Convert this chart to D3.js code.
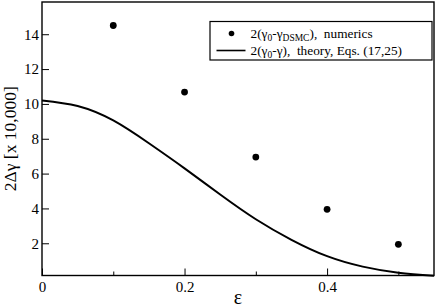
<!DOCTYPE html>
<html><head><meta charset="utf-8">
<script src="https://cdn.jsdelivr.net/npm/d3@7"></script>
<style>body{margin:0;background:#fff}</style>
</head><body><svg id="c" width="436" height="307"></svg>
<script>
const epsNum = [0.1, 0.2, 0.3, 0.4, 0.5];
const dgNum = [14.5, 10.68, 6.95, 3.95, 1.94];
const epsTh = [0, 0.05, 0.1, 0.15, 0.2, 0.25, 0.3, 0.35, 0.4, 0.45, 0.5, 0.55];
const dgTh = [10.2, 9.88, 9.05, 7.74, 6.3, 4.8, 3.38, 2.2, 1.26, 0.66, 0.31, 0.13];
const xMajor = [0, 0.2, 0.4];
const xMinor = [0.1, 0.3, 0.5];
const yMajor = [2, 4, 6, 8, 10, 12, 14];
const xTickLabels = ["0", "0.2", "0.4"];

const FONT = "Liberation Serif, Times New Roman, DejaVu Serif, serif";
const svg = d3.select("#c");
const L = 42, R = 434, T = 2, B = 275.5;
const x = d3.scaleLinear().domain([0, 0.55]).range([L, R]);
const y = d3.scaleLinear().domain([0.15, 15.85]).range([B, T]);

const gx = svg.append("g").attr("transform", `translate(0,${B})`)
  .call(d3.axisBottom(x).tickValues(xMajor).tickSize(-7).tickPadding(5.5).tickFormat((d,i)=>xTickLabels[i]));
gx.attr("font-family", FONT).attr("font-size",15);
gx.select(".domain").remove();
gx.selectAll("line").attr("stroke","#000").attr("stroke-width",1);
gx.selectAll("text").style("font-family",FONT).style("font-size","15px").attr("fill","#000");
const gxm = svg.append("g").attr("transform", `translate(0,${B})`)
  .call(d3.axisBottom(x).tickValues(xMinor).tickSize(-4).tickFormat(""));
gxm.select(".domain").remove();
gxm.selectAll("line").attr("stroke","#000").attr("stroke-width",1);

const gy = svg.append("g").attr("transform", `translate(${L},0)`)
  .call(d3.axisLeft(y).tickValues(yMajor).tickSize(-7).tickPadding(3).tickFormat(d3.format("d")));
gy.attr("font-family", FONT).attr("font-size",15);
gy.select(".domain").remove();
gy.selectAll("line").attr("stroke","#000").attr("stroke-width",1);
gy.selectAll("text").style("font-family",FONT).style("font-size","15px").attr("fill","#000");

const line = d3.line().x((d,i)=>x(epsTh[i])).y((d,i)=>y(d)).curve(d3.curveNatural);
svg.append("path").attr("d", line(dgTh)).attr("fill","none").attr("stroke","#000").attr("stroke-width",2);

svg.append("g").selectAll("circle").data(dgNum).join("circle")
  .attr("cx",(d,i)=>x(epsNum[i])).attr("cy",d=>y(d)).attr("r",3.4).attr("fill","#000");

svg.append("rect").attr("x",L).attr("y",T).attr("width",R-L).attr("height",B-T)
  .attr("fill","none").attr("stroke","#000").attr("stroke-width",1.4);

svg.append("text").attr("transform",`translate(16,${(T+B)/2}) rotate(-90)`)
  .attr("text-anchor","middle").style("font-family",FONT).style("font-size","17.5px").text("2Δγ [x 10,000]");
svg.append("text").attr("x",(L+R)/2).attr("y",304).attr("text-anchor","middle")
  .style("font-family",FONT).style("font-size","20px").text("ε");

const lg = svg.append("g");
lg.append("rect").attr("x",210).attr("y",21.5).attr("width",222).attr("height",38.5)
  .attr("fill","#fff").attr("stroke","#000").attr("stroke-width",1.2);
lg.append("circle").attr("cx",231.5).attr("cy",33.5).attr("r",2.8).attr("fill","#000");
lg.append("line").attr("x1",216.5).attr("x2",245.5).attr("y1",50.5).attr("y2",50.5)
  .attr("stroke","#000").attr("stroke-width",1.6);
const t1 = lg.append("text").attr("x",250.5).attr("y",37.5).style("font-family",FONT).style("font-size","13.3px").style("white-space","pre");
t1.append("tspan").text("2(γ");
t1.append("tspan").style("font-size","9.5px").attr("dy",3).text("0");
t1.append("tspan").attr("dy",-3).text("-γ");
t1.append("tspan").style("font-size","9.5px").attr("dy",3).text("DSMC");
t1.append("tspan").attr("dy",-3).text("),  numerics");
const t2 = lg.append("text").attr("x",250.5).attr("y",54.5).style("font-family",FONT).style("font-size","13.3px").style("white-space","pre");
t2.append("tspan").text("2(γ");
t2.append("tspan").style("font-size","9.5px").attr("dy",3).text("0");
t2.append("tspan").attr("dy",-3).text("-γ),  theory, Eqs. (17,25)");
</script></body></html>
